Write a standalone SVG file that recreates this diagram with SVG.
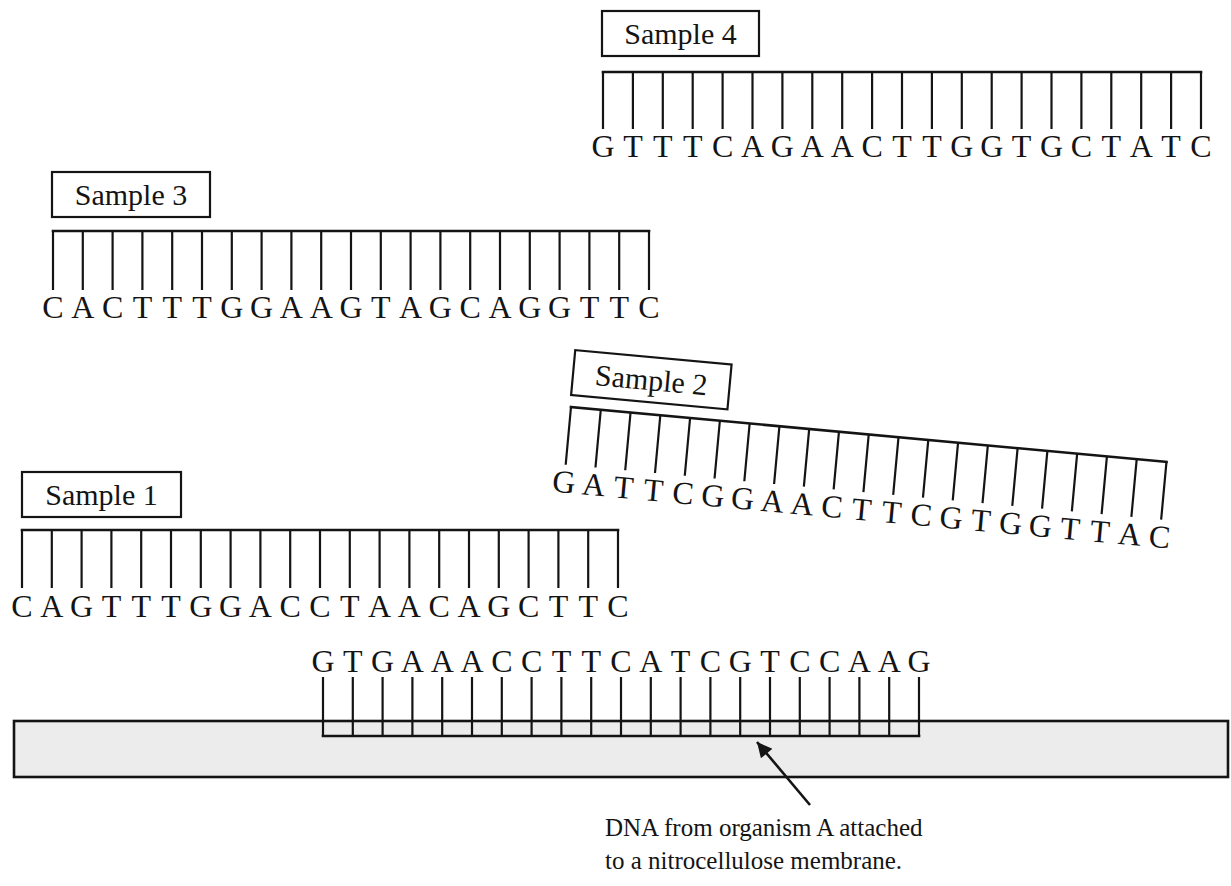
<svg xmlns="http://www.w3.org/2000/svg" width="1231" height="886" viewBox="0 0 1231 886">
<defs>
<style>
.bb{stroke:#141414;stroke-width:2.6;fill:none;stroke-linecap:square}
.rung{stroke:#141414;stroke-width:2.2;fill:none}
.box{fill:#fff;stroke:#141414;stroke-width:2.2}
.seq{font-family:"Liberation Serif",serif;font-size:32px;fill:#141414;text-anchor:middle}
.lbl{font-family:"Liberation Serif",serif;font-size:30px;fill:#141414;text-anchor:middle}
.note{font-family:"Liberation Serif",serif;font-size:25px;fill:#141414}
.mem{fill:#ececec;stroke:#141414;stroke-width:2.6}
</style>
<marker id="ah" viewBox="0 0 10 10" refX="10" refY="5" markerWidth="19" markerHeight="15" markerUnits="userSpaceOnUse" orient="auto">
<path d="M0,0 L10,5 L0,10 z" fill="#141414"/>
</marker>
</defs>
<rect width="1231" height="886" fill="#fff"/>

<g id="sample4">
<rect class="box" x="602" y="11" width="157" height="45"/>
<text class="lbl" x="680.5" y="44">Sample 4</text>
<path class="rung" d="M603 72V129M632.9 72V129M662.8 72V129M692.7 72V129M722.6 72V129M752.5 72V129M782.4 72V129M812.3 72V129M842.2 72V129M872.1 72V129M902 72V129M931.9 72V129M961.8 72V129M991.7 72V129M1021.6 72V129M1051.5 72V129M1081.4 72V129M1111.3 72V129M1141.2 72V129M1171.1 72V129M1201 72V129"/>
<path class="bb" d="M603 72H1201"/>
<text class="seq" x="603 632.9 662.8 692.7 722.6 752.5 782.4 812.3 842.2 872.1 902 931.9 961.8 991.7 1021.6 1051.5 1081.4 1111.3 1141.2 1171.1 1201" y="157">GTTTCAGAACTTGGTGCTATC</text>
</g>

<g id="sample3">
<rect class="box" x="52" y="172" width="158" height="45"/>
<text class="lbl" x="131" y="205">Sample 3</text>
<path class="rung" d="M53 231V290M82.8 231V290M112.6 231V290M142.4 231V290M172.2 231V290M202 231V290M231.8 231V290M261.6 231V290M291.4 231V290M321.2 231V290M351 231V290M380.8 231V290M410.6 231V290M440.4 231V290M470.2 231V290M500 231V290M529.8 231V290M559.6 231V290M589.4 231V290M619.2 231V290M649 231V290"/>
<path class="bb" d="M53 231H649"/>
<text class="seq" x="53 82.8 112.6 142.4 172.2 202 231.8 261.6 291.4 321.2 351 380.8 410.6 440.4 470.2 500 529.8 559.6 589.4 619.2 649" y="318">CACTTTGGAAGTAGCAGGTTC</text>
</g>

<g id="sample2" transform="translate(571,407) rotate(5.27)">
<rect class="box" x="-1" y="-57" width="157" height="45"/>
<text class="lbl" x="77.5" y="-24">Sample 2</text>
<path class="rung" d="M0 0V58M29.9 0V58M59.8 0V58M89.7 0V58M119.6 0V58M149.5 0V58M179.4 0V58M209.3 0V58M239.2 0V58M269.1 0V58M299 0V58M328.9 0V58M358.8 0V58M388.7 0V58M418.6 0V58M448.5 0V58M478.4 0V58M508.3 0V58M538.2 0V58M568.1 0V58M598 0V58"/>
<path class="bb" d="M0 0H598"/>
<text class="seq" x="0 29.9 59.8 89.7 119.6 149.5 179.4 209.3 239.2 269.1 299 328.9 358.8 388.7 418.6 448.5 478.4 508.3 538.2 568.1 598" y="86">GATTCGGAACTTCGTGGTTAC</text>
</g>

<g id="sample1">
<rect class="box" x="22" y="472" width="159" height="45"/>
<text class="lbl" x="101.5" y="505">Sample 1</text>
<path class="rung" d="M22 530V588M51.8 530V588M81.6 530V588M111.4 530V588M141.2 530V588M171 530V588M200.8 530V588M230.6 530V588M260.4 530V588M290.2 530V588M320 530V588M349.8 530V588M379.6 530V588M409.4 530V588M439.2 530V588M469 530V588M498.8 530V588M528.6 530V588M558.4 530V588M588.2 530V588M618 530V588"/>
<path class="bb" d="M22 530H618"/>
<text class="seq" x="22 51.8 81.6 111.4 141.2 171 200.8 230.6 260.4 290.2 320 349.8 379.6 409.4 439.2 469 498.8 528.6 558.4 588.2 618" y="617">CAGTTTGGACCTAACAGCTTC</text>
</g>

<g id="membrane">
<rect class="mem" x="14" y="721" width="1214" height="56"/>
</g>

<g id="organismA">
<path class="rung" d="M323 677V736M352.8 677V736M382.6 677V736M412.4 677V736M442.2 677V736M472 677V736M501.8 677V736M531.6 677V736M561.4 677V736M591.2 677V736M621 677V736M650.8 677V736M680.6 677V736M710.4 677V736M740.2 677V736M770 677V736M799.8 677V736M829.6 677V736M859.4 677V736M889.2 677V736M919 677V736"/>
<path class="bb" d="M323 736H919"/>
<text class="seq" x="323 352.8 382.6 412.4 442.2 472 501.8 531.6 561.4 591.2 621 650.8 680.6 710.4 740.2 770 799.8 829.6 859.4 889.2 919" y="672">GTGAAACCTTCATCGTCCAAG</text>
</g>

<g id="caption">
<text class="note" x="605" y="836">DNA from organism A attached</text>
<text class="note" x="605" y="869">to a nitrocellulose membrane.</text>
</g>

<g id="connectors">
<line x1="810" y1="805" x2="757" y2="742" stroke="#141414" stroke-width="2.6" marker-end="url(#ah)"/>
</g>
</svg>
